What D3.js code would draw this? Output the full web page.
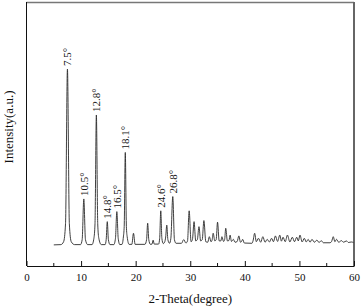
<!DOCTYPE html>
<html>
<head>
<meta charset="utf-8">
<script src="https://cdn.jsdelivr.net/npm/d3@7"></script>
<style>
  body { margin: 0; background: #fff; }
  text { font-family: "Liberation Serif", "Times New Roman", serif; fill: #111; }
</style>
</head>
<body>
<svg id="chart" width="361" height="307"></svg>
<script>
// XRD trace vertices [2-theta, intensity]
var trace = [
  [5.0, 80], [6.3, 81], [6.8, 92], [7.15, 160], [7.5, 746], [7.85, 160], [8.2, 92], [8.8, 81],
  [9.9, 81], [10.2, 100], [10.5, 254], [10.8, 100], [11.2, 81],
  [12.0, 81], [12.35, 105], [12.55, 160], [12.8, 572], [13.05, 160], [13.25, 105], [13.7, 81],
  [14.4, 81], [14.6, 100], [14.8, 168], [15.0, 100], [15.3, 81],
  [16.0, 81], [16.3, 105], [16.55, 206], [16.8, 105], [17.1, 81],
  [17.5, 82], [17.75, 110], [17.9, 150], [18.1, 430], [18.3, 150], [18.45, 110], [18.8, 82],
  [19.3, 82], [19.6, 124], [19.9, 82],
  [21.7, 82], [22.0, 100], [22.2, 162], [22.4, 100], [22.7, 82],
  [23.0, 83], [23.2, 98], [23.4, 83],
  [24.2, 83], [24.4, 105], [24.6, 209], [24.8, 105], [25.05, 85], [25.3, 90], [25.5, 110],
  [25.7, 155], [25.9, 100], [26.2, 86], [26.45, 105], [26.8, 263], [27.1, 100], [27.4, 86],
  [28.4, 86], [28.8, 100], [29.2, 87],
  [29.5, 95], [29.8, 209], [30.15, 92], [30.4, 100], [30.7, 168], [31.0, 95], [31.3, 100],
  [31.6, 149], [31.9, 95], [32.2, 100], [32.5, 172], [32.85, 92], [33.2, 90], [33.5, 111],
  [33.8, 92], [34.0, 98], [34.2, 124], [34.5, 95], [34.75, 100], [35.0, 166], [35.3, 95],
  [35.6, 95], [35.8, 111], [36.1, 93], [36.3, 100], [36.5, 143], [36.8, 95], [37.1, 97],
  [37.3, 117], [37.55, 93], [37.9, 101], [38.2, 90], [38.6, 93], [38.9, 114], [39.2, 90],
  [39.4, 93], [39.6, 101], [39.9, 87],
  [41.3, 86], [41.5, 95], [41.8, 124], [42.1, 92], [42.5, 105], [42.9, 90], [43.3, 111],
  [43.7, 90], [44.1, 101], [44.5, 91], [44.9, 105], [45.25, 92], [45.6, 114], [46.0, 93],
  [46.4, 117], [46.7, 94], [47.0, 109], [47.4, 92], [47.8, 117], [48.25, 91], [48.7, 109],
  [49.1, 92], [49.5, 109], [49.8, 95], [50.1, 117], [50.5, 91], [50.9, 105], [51.25, 91],
  [51.6, 101], [51.95, 90], [52.3, 101], [52.75, 90], [53.2, 98], [53.6, 89], [54.0, 96],
  [54.4, 88], [55.6, 88], [55.9, 93], [56.2, 111], [56.5, 92], [56.8, 101], [57.2, 90],
  [57.7, 96], [58.1, 90], [58.6, 95], [59.0, 89], [59.5, 91], [59.9, 89]
];

// labelled peaks
var peakPos = [7.5, 10.5, 12.8, 14.8, 16.5, 18.1, 24.6, 26.8];
var peakTop = [746, 254, 572, 168, 206, 430, 209, 263];
var peakLabels = ["7.5°", "10.5°", "12.8°", "14.8°", "16.5°", "18.1°", "24.6°", "26.8°"];

var majorTicks = [0, 10, 20, 30, 40, 50, 60];
var minorTicks = [5, 15, 25, 35, 45, 55];

var svg = d3.select('#chart');

var plotLeft = 26.5, plotRight = 354, plotTop = 2, plotBottom = 266;

var x = d3.scaleLinear().domain([0, 60]).range([plotLeft, plotRight]);
var y = d3.scaleLinear().domain([0, 1000]).range([plotBottom, plotTop]);

// frame
svg.append('line')
	.attr('x1', plotLeft).attr('x2', plotRight).attr('y1', plotTop + 0.5).attr('y2', plotTop + 0.5)
	.attr('stroke', '#777').attr('stroke-width', 1.5);
svg.append('line')
	.attr('x1', plotRight).attr('x2', plotRight).attr('y1', plotTop).attr('y2', plotBottom)
	.attr('stroke', '#666').attr('stroke-width', 2);
svg.append('line')
	.attr('x1', plotLeft).attr('x2', plotLeft).attr('y1', plotTop).attr('y2', plotBottom)
	.attr('stroke', '#111').attr('stroke-width', 1);

// bottom axis, ticks pointing inward
var xAxis = svg.append('g')
	.attr('class', 'xAxis')
	.attr('transform', 'translate(0,' + plotBottom + ')')
	.call(d3.axisBottom(x).tickValues(majorTicks).tickSizeInner(-5).tickSizeOuter(0).tickPadding(7));

xAxis.select('.domain').attr('stroke', '#111');
xAxis.selectAll('.tick line').attr('stroke', '#111');
xAxis.selectAll('text')
	.style('font-family', '"Liberation Serif", "Times New Roman", serif')
	.style('font-size', '11px')
	.attr('fill', '#111');

svg.append('g')
	.attr('class', 'minorTicks')
	.selectAll('line')
	.data(minorTicks)
	.enter()
	.append('line')
	.attr('x1', function(d) { return x(d); })
	.attr('x2', function(d) { return x(d); })
	.attr('y1', plotBottom)
	.attr('y2', plotBottom - 3)
	.attr('stroke', '#111');

// the pattern
var line = d3.line()
	.x(function(d) { return x(d[0]); })
	.y(function(d) { return y(d[1]); })
	.curve(d3.curveMonotoneX);

svg.append('path')
	.datum(trace)
	.attr('d', line)
	.attr('fill', 'none')
	.attr('stroke', '#2a2a2a')
	.attr('stroke-width', 0.9);

// peak labels
svg.append('g')
	.attr('class', 'peakLabels')
	.selectAll('text')
	.data(peakPos)
	.enter()
	.append('text')
	.attr('transform', function(d, i) {
		return 'translate(' + (x(d) + 4) + ',' + (y(peakTop[i]) - 3) + ') rotate(-90)';
	})
	.style('font-size', '11px')
	.text(function(d, i) { return peakLabels[i]; });

// axis titles
svg.append('text')
	.attr('x', (plotLeft + plotRight) / 2)
	.attr('y', 303)
	.attr('text-anchor', 'middle')
	.style('font-size', '13px')
	.text('2-Theta(degree)');

svg.append('text')
	.attr('transform', 'translate(13,127) rotate(-90)')
	.attr('text-anchor', 'middle')
	.style('font-size', '13px')
	.text('Intensity(a.u.)');
</script>
</body>
</html>
